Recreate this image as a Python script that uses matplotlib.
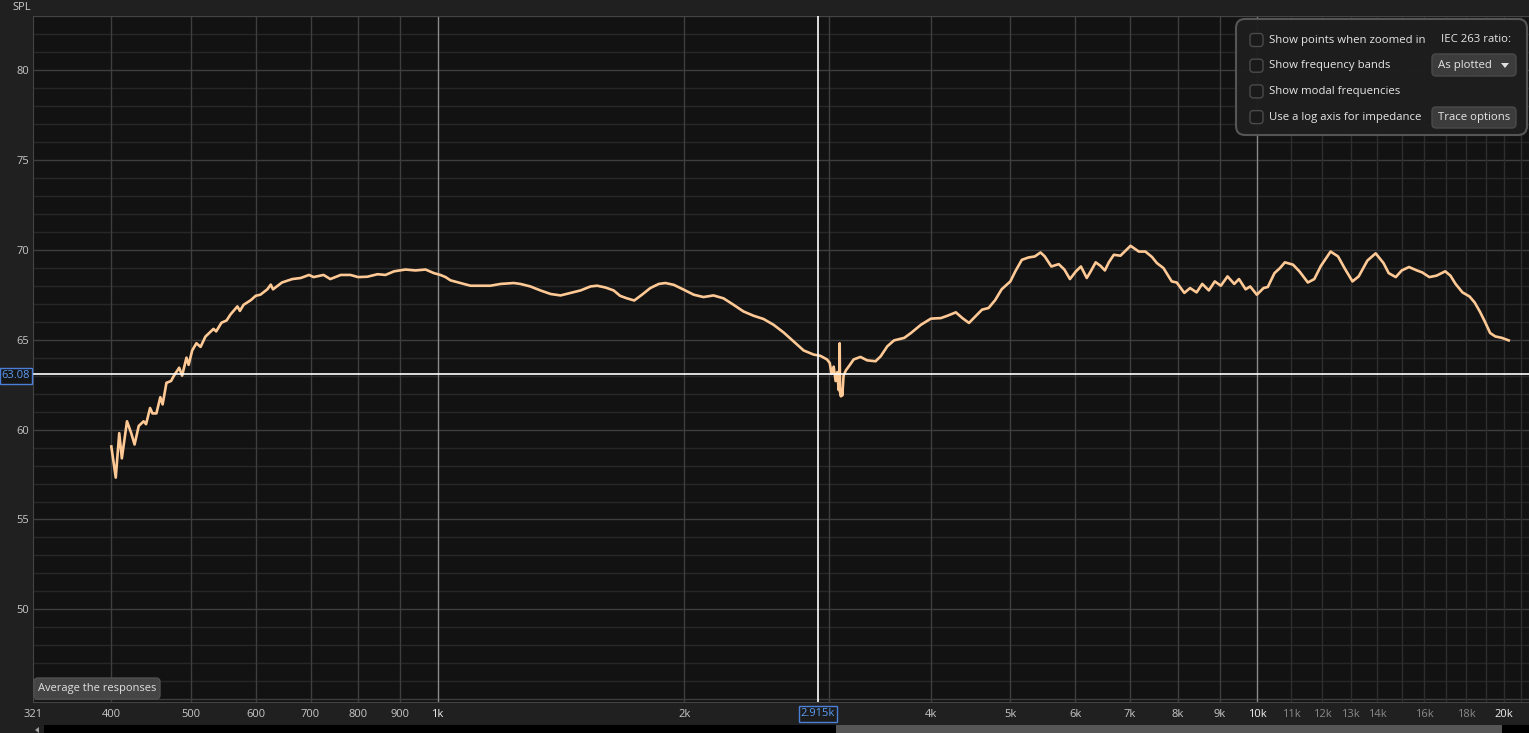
import matplotlib
matplotlib.use("Agg")
import matplotlib.pyplot as plt
from matplotlib.patches import FancyBboxPatch, Rectangle, Polygon
from matplotlib.ticker import NullLocator

W, H = 1529, 733

# SPL trace (Hz, dB)
low_freq = [400, 405, 409, 412, 418, 423, 427, 432, 438, 441, 446, 449, 454, 459,
            462, 467, 473, 477, 484, 488, 494, 497, 502, 508, 514, 521, 533, 537,
            545, 553, 559, 570, 574, 580, 592, 600, 608, 620, 626, 630, 646, 665,
            681, 697, 706, 726, 740, 762, 783, 800, 821, 845, 864, 885, 914, 940,
            967, 990]
low_spl = [59.06, 57.33, 59.8, 58.4, 60.46, 59.8, 59.17, 60.2, 60.46, 60.3, 61.2, 60.9, 60.9, 61.8,
           61.4, 62.6, 62.7, 63.0, 63.44, 63.0, 64.0, 63.6, 64.4, 64.8, 64.6, 65.17, 65.6, 65.46,
           65.94, 66.07, 66.4, 66.85, 66.6, 66.94, 67.2, 67.44, 67.5, 67.8, 68.06, 67.8, 68.18, 68.37,
           68.43, 68.6, 68.48, 68.6, 68.37, 68.6, 68.6, 68.48, 68.5, 68.64, 68.6, 68.8, 68.9, 68.85,
           68.9, 68.7]

mid_freq = [1008, 1023, 1037, 1067, 1097, 1128, 1160, 1194, 1239, 1262, 1298, 1335,
            1374, 1413, 1453, 1495, 1537, 1566, 1603, 1640, 1670, 1702, 1738, 1776,
            1818, 1862, 1897, 1942, 1997, 2054, 2111, 2171, 2233, 2297, 2362, 2430,
            2499, 2570, 2644, 2719, 2797, 2877, 2932, 2987]
mid_spl = [68.6, 68.48, 68.3, 68.15, 68.0, 68.0, 68.0, 68.1, 68.15, 68.1, 67.96, 67.74,
           67.54, 67.46, 67.6, 67.74, 67.96, 68.0, 67.9, 67.74, 67.44, 67.3, 67.18, 67.5,
           67.87, 68.1, 68.15, 68.05, 67.78, 67.5, 67.37, 67.46, 67.3, 66.94, 66.57, 66.33,
           66.15, 65.83, 65.4, 64.9, 64.4, 64.17, 64.1, 63.9]

dip_freq = [3010, 3025, 3043, 3060, 3075, 3086, 3092, 3095, 3098, 3106, 3112, 3118,
            3129, 3150, 3174]
dip_spl = [63.7, 63.1, 63.5, 62.7, 63.2, 62.2, 62.4, 64.8, 62.1, 61.85, 62.2, 61.9,
           63.0, 63.3, 63.5]

high_freq = [3219, 3281, 3343, 3423, 3472, 3538, 3606, 3711, 3781, 3889, 3999, 4113,
             4189, 4289, 4369, 4450, 4533, 4617, 4702, 4790, 4878, 4999, 5069, 5163,
             5259, 5356, 5441, 5506, 5609, 5727, 5818, 5910, 6010, 6095, 6196, 6265,
             6353, 6442, 6519, 6592, 6685, 6811, 7006, 7172, 7305, 7441, 7545, 7686,
             7866, 7977, 8150, 8282, 8435, 8570, 8730, 8878, 9030, 9201, 9376, 9502,
             9681, 9805, 9991]
high_spl = [63.9, 64.04, 63.85, 63.8, 64.07, 64.63, 64.96, 65.1, 65.37, 65.83, 66.17, 66.2,
            66.33, 66.52, 66.2, 65.93, 66.3, 66.67, 66.76, 67.2, 67.8, 68.24, 68.8, 69.44,
            69.57, 69.63, 69.85, 69.63, 69.07, 69.2, 68.9, 68.37, 68.8, 69.07, 68.43, 68.8,
            69.3, 69.1, 68.85, 69.3, 69.72, 69.67, 70.22, 69.9, 69.9, 69.6, 69.26, 68.98,
            68.24, 68.18, 67.6, 67.87, 67.63, 68.1, 67.74, 68.24, 68.0, 68.52, 68.1, 68.37,
            67.8, 67.96, 67.5]

top_freq = [10180, 10303, 10498, 10660, 10810, 11060, 11260, 11530, 11740, 11960, 12290,
            12550, 12800, 13070, 13300, 13630, 13950, 14260, 14470, 14760, 15010, 15320,
            15660, 15900, 16220, 16550, 16960, 17210, 17460, 17800, 18160, 18420, 18690,
            18960, 19240, 19520, 19890, 20270]
top_spl = [67.87, 67.93, 68.7, 68.98, 69.3, 69.17, 68.8, 68.18, 68.37, 69.1, 69.9,
           69.63, 68.93, 68.24, 68.52, 69.4, 69.8, 69.26, 68.7, 68.48, 68.85, 69.04,
           68.85, 68.74, 68.48, 68.56, 68.8, 68.56, 68.1, 67.63, 67.4, 67.07, 66.57,
           66.0, 65.37, 65.18, 65.1, 64.96]

freq = low_freq + mid_freq + dip_freq + high_freq + top_freq
spl = low_spl + mid_spl + dip_spl + high_spl + top_spl

x_ticks = [321, 400, 500, 600, 700, 800, 900, 1000, 2000, 4000, 5000, 6000, 7000,
           8000, 9000, 10000, 11000, 12000, 13000, 14000, 16000, 18000, 20000]
x_labels = ['321', '400', '500', '600', '700', '800', '900', '1k', '2k', '4k', '5k', '6k',
            '7k', '8k', '9k', '10k', '11k', '12k', '13k', '14k', '16k', '18k', '20k']
dim_labels = ['11k', '12k', '13k', '14k', '16k', '18k']
bright_labels = ['1k', '10k', '20k']
y_ticks = [50, 55, 60, 65, 70, 75, 80]

grid_freq = [400, 500, 600, 700, 800, 900, 2000, 3000, 4000, 5000, 6000, 7000, 8000, 9000]
fine_freq = [11000, 12000, 13000, 14000, 15000, 16000, 17000, 18000, 19000, 20000, 21000]
decade_freq = [1000, 10000]

cursor_freq = 2915
cursor_spl = 63.08

options = ['Show points when zoomed in', 'Show frequency bands',
           'Show modal frequencies', 'Use a log axis for impedance']

plt.rcParams['font.family'] = ['Open Sans', 'DejaVu Sans']

fig = plt.figure(figsize=(W / 100, H / 100), dpi=100, facecolor='#202020')

left, top, bottom = 33, 16, 702
ax = fig.add_axes([left / W, 1 - bottom / H, (W - left) / W, (bottom - top) / H])
ax.set_facecolor('#121212')
ax.set_xscale('log')
ax.set_xlim(321, 21460)
ax.set_ylim(44.85, 83.0)
ax.xaxis.set_minor_locator(NullLocator())
ax.yaxis.set_minor_locator(NullLocator())

for v in range(45, 84):
    if v % 5:
        ax.axhline(v, color='#272727', lw=1, zorder=1)
    else:
        ax.axhline(v, color='#3e3e3e', lw=1, zorder=1)
for f in fine_freq:
    ax.axvline(f, color='#2e2e2e', lw=1, zorder=1)
for f in grid_freq:
    ax.axvline(f, color='#3e3e3e', lw=1, zorder=1)
for f in decade_freq:
    ax.axvline(f, color='#8a8a8a', lw=1, zorder=1)

ax.plot(freq, spl, color='#ffc996', lw=1.9, zorder=3, solid_joinstyle='round')

ax.axhline(cursor_spl, color='white', lw=1.2, zorder=4)
ax.axvline(cursor_freq, color='white', lw=1.2, zorder=4)

ax.set_xticks(x_ticks)
ax.set_xticklabels(x_labels)
ax.set_yticks(y_ticks)
ax.tick_params(length=0, labelsize=8, colors='#c8c8c8')
ax.tick_params(axis='x', pad=5)
ax.tick_params(axis='y', pad=3)
for lab in ax.get_xticklabels():
    if lab.get_text() in dim_labels:
        lab.set_color('#8a8a8a')
    elif lab.get_text() in bright_labels:
        lab.set_color('#f2f2f2')
for sp in ax.spines.values():
    sp.set_color('#444444')

# overlay in pixel coordinates for the widgets
ov = fig.add_axes([0, 0, 1, 1], facecolor='none')
ov.set_xlim(0, W)
ov.set_ylim(H, 0)
ov.axis('off')

ov.text(12, 7, 'SPL', color='#d0d0d0', fontsize=8, va='center', ha='left')

# cursor readouts
ov.text(16, 376, '63.08', color='#5b9cf5', fontsize=8, ha='center', va='center',
        bbox=dict(boxstyle='square,pad=0.2', fc='#161616', ec='#4a80d8', lw=1))
ov.text(818, 714, '2.915k', color='#5b9cf5', fontsize=8, ha='center', va='center',
        bbox=dict(boxstyle='square,pad=0.2', fc='#1c1c1c', ec='#4a80d8', lw=1))

# options panel
ov.add_patch(FancyBboxPatch((1236, 19), 291, 116, boxstyle='round,pad=0,rounding_size=9',
                            fc='#1e1e1e', ec='#585858', lw=1.5, alpha=0.97, zorder=5))
for i, label in enumerate(options):
    yc = 40 + i * 25.7
    ov.add_patch(FancyBboxPatch((1250, yc - 6.5), 13, 13,
                                boxstyle='round,pad=0,rounding_size=3',
                                fc='#1a1a1a', ec='#4a4a4a', lw=1, zorder=6))
    ov.text(1269, yc, label, color='#e6e6e6', fontsize=8.2, va='center', ha='left', zorder=7)
ov.text(1441, 40, 'IEC 263 ratio:', color='#e6e6e6', fontsize=8.2, va='center', ha='left', zorder=7)

ov.add_patch(FancyBboxPatch((1432, 54), 84, 22, boxstyle='round,pad=0,rounding_size=4',
                            fc='#3c3c3c', ec='#4a4a4a', lw=1, zorder=6))
ov.text(1438, 65.5, 'As plotted', color='#e6e6e6', fontsize=8.2, va='center', ha='left', zorder=7)
ov.add_patch(Polygon([(1501, 63), (1509, 63), (1505, 68)], closed=True, fc='#e0e0e0', ec='none', zorder=7))

ov.add_patch(FancyBboxPatch((1432, 107), 84, 21, boxstyle='round,pad=0,rounding_size=4',
                            fc='#3c3c3c', ec='#4a4a4a', lw=1, zorder=6))
ov.text(1474, 117.5, 'Trace options', color='#e6e6e6', fontsize=8.2, va='center', ha='center', zorder=7)

# button at lower left
ov.add_patch(FancyBboxPatch((34, 678), 126, 21, boxstyle='round,pad=0,rounding_size=4',
                            fc='#454545', ec='#505050', lw=1, zorder=6))
ov.text(97, 689, 'Average the responses', color='#e0e0e0', fontsize=8.0, va='center', ha='center', zorder=7)

# scrollbar
ov.add_patch(Rectangle((44, 725), W - 44, 8, fc='black', ec='none', zorder=5))
ov.add_patch(Rectangle((836, 725), 666, 8, fc='#565656', ec='none', zorder=6))
ov.add_patch(Polygon([(35, 730), (39, 727), (39, 733)], closed=True, fc='#a0a0a0', ec='none', zorder=6))

fig.savefig('out.png', dpi=100, facecolor=fig.get_facecolor())
